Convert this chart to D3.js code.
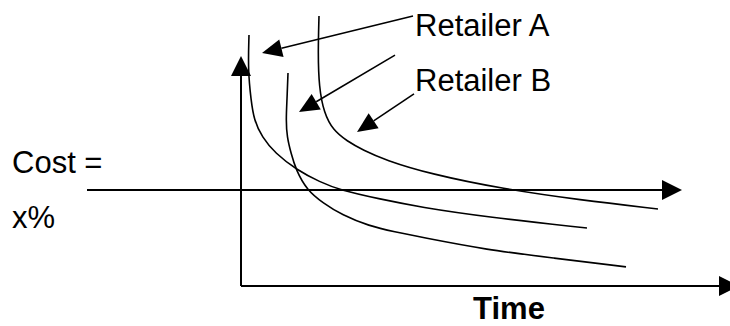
<!DOCTYPE html>
<html>
<head>
<meta charset="utf-8">
<script src="https://cdn.jsdelivr.net/npm/d3@7"></script>
<style>
  html, body { margin: 0; padding: 0; background: #fff; }
  svg { display: block; font-family: "Liberation Sans", Arial, sans-serif; }
</style>
</head>
<body>
<div id="chart"></div>
<script>
// Curves as [time, cost] in arbitrary units (axis = 0..100)
const curveA1 = [[1.6,109.1],[1.4,93.9],[2.0,80.9],[2.6,72.2],[4.2,64.8],[6.8,57.8],[11.2,50.4],[15.8,45.2],[19.8,41.7],[27.8,37.8],[35.8,34.3],[49.2,30.0],[69.2,25.2]];
const curveA2 = [[9.4,92.6],[9.2,80.9],[9.0,72.2],[9.2,64.8],[10.0,57.8],[11.0,50.4],[13.2,41.7],[16.4,36.1],[20.2,30.9],[25.6,26.1],[30.8,23.5],[35.8,21.3],[49.2,15.7],[62.4,12.2],[77.0,8.3]];
const curveB = [[15.6,117.4],[15.4,101.3],[15.6,86.5],[16.6,75.2],[18.4,67.8],[21.2,63.0],[24.4,59.1],[28.8,54.8],[37.8,48.7],[52.4,42.2],[67.8,37.4],[83.4,33.5]];

// threshold "Cost = x%"
const costLevel = 41.7;
const costLineSpan = [-30.8, 88.2];

// pointers [from, to] in [time, cost]
const pointers = [
  [[34.4,117.4],[4.2,101.3]],
  [[30.8,100.4],[11.6,75.7]],
  [[34.6,83.5],[23.2,67.0]]
];
const labels = ['Retailer A', 'Retailer B'];
const axisLabel = 'Time';
const costLabel = ['Cost =', 'x%'];

const width = 730, height = 326;
const x = d3.scaleLinear().domain([0, 100]).range([241, 741]);
const y = d3.scaleLinear().domain([0, 100]).range([286, 56]);

const svg = d3.select('#chart').append('svg')
  .attr('width', width).attr('height', height);

svg.append('rect').attr('width', width).attr('height', height).attr('fill', '#fff');

function head(tip, from, L, W) {
  const dx = tip[0] - from[0], dy = tip[1] - from[1];
  const len = Math.hypot(dx, dy), ux = dx / len, uy = dy / len;
  const bx = tip[0] - ux * L, by = tip[1] - uy * L;
  return { base: [bx, by], d: `M${tip[0]},${tip[1]}L${bx - uy * W},${by + ux * W}L${bx + uy * W},${by - ux * W}Z` };
}

function arrow(p0, p1, L, W, sw) {
  const h = head(p1, p0, L, W);
  svg.append('line')
    .attr('x1', p0[0]).attr('y1', p0[1])
    .attr('x2', h.base[0]).attr('y2', h.base[1])
    .attr('stroke', '#000').attr('stroke-width', sw);
  svg.append('path').attr('d', h.d).attr('fill', '#000');
}

// axes
arrow([x(0), y(0)], [x(0), y(100)], 20, 10, 2);
arrow([x(0), y(0)], [x(99.6), y(0)], 20, 10, 2);

// cost threshold
arrow([x(costLineSpan[0]), y(costLevel)], [x(costLineSpan[1]), y(costLevel)], 20, 10, 2);

// curves
const line = d3.line().x(d => x(d[0])).y(d => y(d[1])).curve(d3.curveBasis);
[curveA1, curveA2, curveB].forEach(c => {
  svg.append('path').datum(c)
    .attr('fill', 'none').attr('stroke', '#000').attr('stroke-width', 1.6)
    .attr('d', line);
});

// pointers
pointers.forEach(p => arrow([x(p[0][0]), y(p[0][1])], [x(p[1][0]), y(p[1][1])], 20, 9, 1.6));

// text
svg.append('text').attr('x', x(34.8)).attr('y', y(108.7))
  .attr('font-size', 31).text(labels[0]);
svg.append('text').attr('x', x(34.8)).attr('y', y(84.8))
  .attr('font-size', 31).text(labels[1]);
svg.append('text').attr('x', 12).attr('y', 173).attr('font-size', 31).text(costLabel[0]);
svg.append('text').attr('x', 12).attr('y', 228).attr('font-size', 31).text(costLabel[1]);
svg.append('text').attr('x', 509).attr('y', 319).attr('text-anchor', 'middle')
  .attr('font-size', 31).attr('font-weight', 'bold').text(axisLabel);
</script>
</body>
</html>
